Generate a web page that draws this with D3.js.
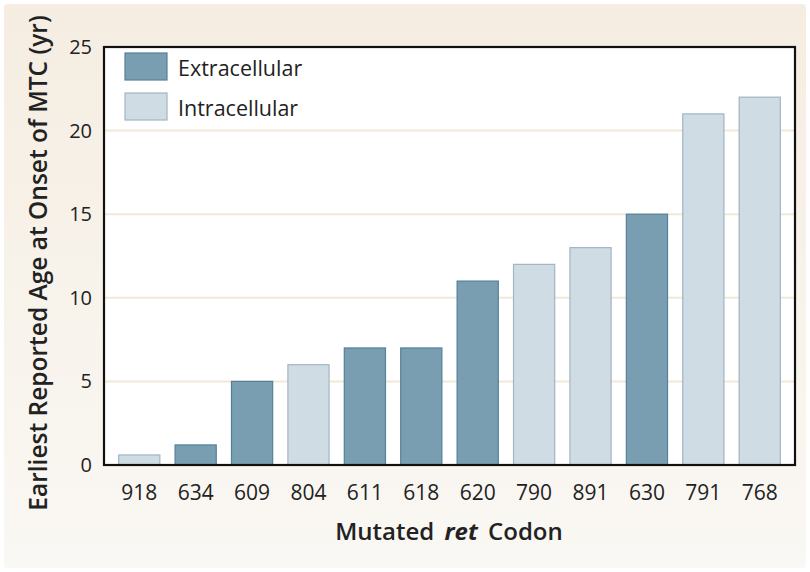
<!DOCTYPE html>
<html>
<head>
  <script src="https://cdn.jsdelivr.net/npm/d3@7"></script>
  <style>
    * { margin: 0; padding: 0; }
    body { background: #fff; }
    text { font-family: "Open Sans", "Noto Sans", sans-serif; fill: #222; }
  </style>
</head>
<body>
  <script>
    // data
    var codons = ["918", "634", "609", "804", "611", "618", "620", "790", "891", "630", "791", "768"];
    var ages = [0.6, 1.2, 5, 6, 7, 7, 11, 12, 13, 15, 21, 22];
    var domains = ["Intracellular", "Extracellular", "Extracellular", "Intracellular", "Extracellular", "Extracellular",
                   "Extracellular", "Intracellular", "Intracellular", "Extracellular", "Intracellular", "Intracellular"];
    var legendKeys = ["Extracellular", "Intracellular"];
    var yTicks = [0, 5, 10, 15, 20, 25];

    var w = 810, h = 572;
    // plot box edges (window.top is read-only, so avoid "top")
    var padL = 104, padR = 795, padT = 47, padB = 465;

    var svg = d3.select("body").append("svg")
      .attr("width", w)
      .attr("height", h);

    // beige backdrop
    var grad = svg.append("defs").append("linearGradient")
      .attr("id", "bg").attr("x1", 0).attr("y1", 0).attr("x2", 0).attr("y2", 1);
    grad.append("stop").attr("offset", "0%").attr("stop-color", "#f5ede1");
    grad.append("stop").attr("offset", "100%").attr("stop-color", "#faf8f4");
    svg.append("rect")
      .attr("x", 4).attr("y", 4).attr("width", w - 8).attr("height", h - 8)
      .attr("rx", 4)
      .attr("fill", "url(#bg)");

    var x = d3.scaleBand()
      .domain(codons)
      .range([padL, padR])
      .paddingInner(0.27)
      .paddingOuter(0.26);

    var y = d3.scaleLinear()
      .domain([0, 25])
      .range([padB, padT]);

    var fill = d3.scaleOrdinal().domain(legendKeys).range(["#7a9eb1", "#d0dce3"]);
    var stroke = d3.scaleOrdinal().domain(legendKeys).range(["#55809a", "#9fb6c4"]);

    // plot area
    svg.append("rect")
      .attr("x", padL).attr("y", padT)
      .attr("width", padR - padL).attr("height", padB - padT)
      .attr("fill", "#fff");

    // grid lines
    svg.append("g").selectAll("line")
      .data(yTicks.slice(1, -1))
      .enter().append("line")
      .attr("x1", padL).attr("x2", padR)
      .attr("y1", function(d) { return y(d); })
      .attr("y2", function(d) { return y(d); })
      .attr("stroke", "#f2e8d8")
      .attr("stroke-width", 2);

    // bars
    svg.append("g").selectAll("rect")
      .data(codons)
      .enter().append("rect")
      .attr("x", function(d) { return x(d); })
      .attr("y", function(d, i) { return y(ages[i]); })
      .attr("width", x.bandwidth())
      .attr("height", function(d, i) { return y(0) - y(ages[i]); })
      .attr("fill", function(d, i) { return fill(domains[i]); })
      .attr("stroke", function(d, i) { return stroke(domains[i]); })
      .attr("stroke-width", 1.2);

    // frame
    svg.append("rect")
      .attr("x", padL).attr("y", padT)
      .attr("width", padR - padL).attr("height", padB - padT)
      .attr("fill", "none")
      .attr("stroke", "#111")
      .attr("stroke-width", 2.2);

    // y axis labels
    var yAxis = svg.append("g")
      .attr("transform", "translate(" + padL + ",0)")
      .call(d3.axisLeft(y).tickValues(yTicks).tickSize(0).tickPadding(12));
    yAxis.select(".domain").remove();
    yAxis.selectAll("text")
      .style("font-size", "20px")
      .style("font-family", "'Open Sans', sans-serif")
      .attr("fill", "#222");

    // x axis labels
    var xAxis = svg.append("g")
      .attr("transform", "translate(0," + padB + ")")
      .call(d3.axisBottom(x).tickSize(0).tickPadding(20));
    xAxis.select(".domain").remove();
    xAxis.selectAll("text")
      .style("font-size", "21px")
      .style("font-family", "'Open Sans', sans-serif")
      .attr("fill", "#222");

    // axis titles
    var xt = svg.append("text")
      .attr("x", 449).attr("y", 540)
      .attr("text-anchor", "middle")
      .style("font-size", "24px")
      .style("font-weight", 600)
      .style("word-spacing", "4px");
    xt.append("tspan").text("Mutated ");
    xt.append("tspan").style("font-style", "italic").style("font-weight", 700).text("ret");
    xt.append("tspan").text(" Codon");

    svg.append("text")
      .attr("transform", "translate(47,263) rotate(-90)")
      .attr("text-anchor", "middle")
      .style("font-size", "24.5px")
      .style("font-weight", 600)
      .text("Earliest Reported Age at Onset of MTC (yr)");

    // legend
    var legend = svg.append("g").selectAll("g")
      .data(legendKeys)
      .enter().append("g")
      .attr("transform", function(d, i) { return "translate(125," + (53 + i * 40) + ")"; });
    legend.append("rect")
      .attr("width", 42).attr("height", 27)
      .attr("fill", function(d) { return fill(d); })
      .attr("stroke", function(d) { return stroke(d); })
      .attr("stroke-width", 1.2);
    legend.append("text")
      .attr("x", 53).attr("y", 23)
      .style("font-size", "21.5px")
      .text(function(d) { return d; });
  </script>
</body>
</html>
